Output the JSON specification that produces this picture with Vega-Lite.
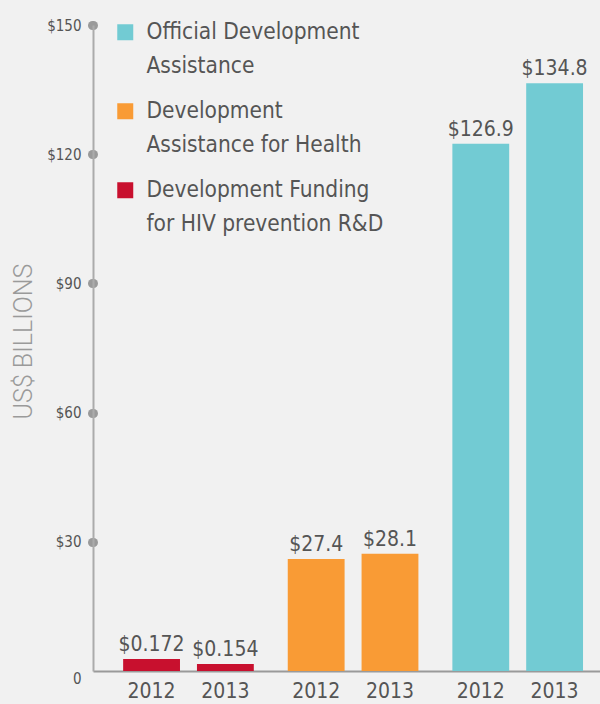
{
  "$schema": "https://vega.github.io/schema/vega-lite/v6.json",
  "width": 507,
  "height": 646,
  "autosize": {"type": "none"},
  "padding": {"left": 93, "top": 25, "right": 0, "bottom": 33},
  "background": "#f1f1f1",
  "config": {
    "view": {"stroke": null},
    "font": "DejaVu Sans Condensed, sans-serif",
    "style": {"guide-label": {"lineHeight": 34}}
  },
  "data": {
    "values": [
      {"series": "Development Funding for HIV prevention R&D", "year": "2012", "value": 2.8, "label": "$0.172"},
      {"series": "Development Funding for HIV prevention R&D", "year": "2013", "value": 1.6, "label": "$0.154"},
      {"series": "Development Assistance for Health", "year": "2012", "value": 26.0, "label": "$27.4"},
      {"series": "Development Assistance for Health", "year": "2013", "value": 27.2, "label": "$28.1"},
      {"series": "Official Development Assistance", "year": "2012", "value": 122.4, "label": "$126.9"},
      {"series": "Official Development Assistance", "year": "2013", "value": 136.5, "label": "$134.8"}
    ]
  },
  "encoding": {
    "x": {
      "field": "series",
      "type": "nominal",
      "sort": ["Development Funding for HIV prevention R&D", "Development Assistance for Health", "Official Development Assistance"],
      "scale": {"paddingInner": 0, "paddingOuter": 0.04, "align": 1},
      "axis": {"title": null, "labels": false, "ticks": false, "domainColor": "#9a9a9a", "domainWidth": 2}
    },
    "xOffset": {
      "field": "year",
      "type": "nominal",
      "scale": {"paddingInner": 0.23, "paddingOuter": 0.23}
    }
  },
  "layer": [
    {
      "mark": {"type": "bar"},
      "encoding": {
        "y": {
          "field": "value",
          "type": "quantitative",
          "scale": {"domain": [0, 150], "nice": false},
          "axis": {
            "title": "US$ BILLIONS",
            "values": [0, 30, 60, 90, 120, 150],
            "labelExpr": "datum.value == 0 ? '0' : '$' + datum.label",
            "grid": false,
            "domainColor": "#ababab",
            "domainWidth": 2,
            "tickColor": "#9a9a9a",
            "tickCap": "round",
            "tickWidth": 9,
            "tickSize": 1,
            "tickOpacity": {"condition": {"test": "datum.value == 0", "value": 0}, "value": 1},
            "labelBaseline": {"condition": {"test": "datum.value == 0", "value": "top"}, "value": "middle"},
            "labelPadding": 11,
            "labelFontSize": 15,
            "labelColor": "#555555",
            "titleFont": "Roboto",
            "titleFontWeight": 300,
            "titleFontSize": 25,
            "titleColor": "#9a9a9a",
            "titleAngle": 270,
            "titleAlign": "center",
            "titleBaseline": "middle",
            "titleX": -70,
            "titleY": 316
          }
        },
        "color": {
          "field": "series",
          "type": "nominal",
          "scale": {
            "domain": ["Official Development Assistance", "Development Assistance for Health", "Development Funding for HIV prevention R&D"],
            "range": ["#72cbd3", "#f99b35", "#c8102e"]
          },
          "legend": {
            "orient": "none",
            "legendX": 21,
            "legendY": -4,
            "title": null,
            "symbolType": "square",
            "symbolSize": 256,
            "symbolStrokeWidth": 0,
            "symbolOpacity": 1,
            "labelFontSize": 22.5,
            "labelColor": "#555555",
            "labelOffset": 10,
            "rowPadding": 22,
            "labelLimit": 400,
            "labelExpr": "datum.label == 'Official Development Assistance' ? ['Official Development', 'Assistance'] : datum.label == 'Development Assistance for Health' ? ['Development', 'Assistance for Health'] : ['Development Funding', 'for HIV prevention R&D']"
          }
        }
      }
    },
    {
      "mark": {"type": "text", "baseline": "alphabetic", "dy": -8, "fontSize": 21, "color": "#555555"},
      "encoding": {
        "y": {"field": "value", "type": "quantitative"},
        "text": {"field": "label"}
      }
    },
    {
      "mark": {"type": "text", "baseline": "alphabetic", "dy": 27, "fontSize": 21, "color": "#555555"},
      "encoding": {
        "y": {"datum": 0, "type": "quantitative"},
        "text": {"field": "year"}
      }
    }
  ]
}
